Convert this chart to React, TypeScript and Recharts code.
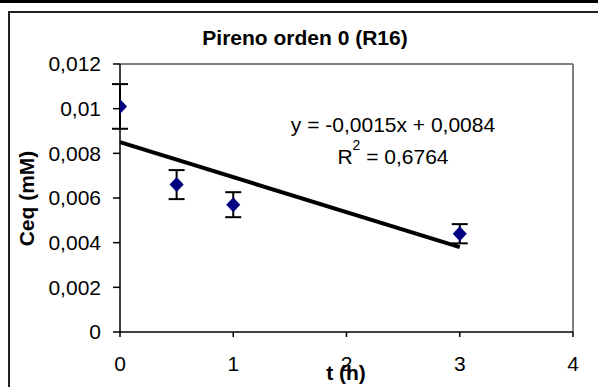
import React from 'react';
import { ComposedChart, Scatter, ErrorBar, XAxis, YAxis, ReferenceLine } from 'recharts';

// measured points (t in h, Ceq in mM) with error
const times = [0, 0.5, 1, 3];
const ceq = [0.0101, 0.0066, 0.0057, 0.0044];
const errs = [0.001, 0.00065, 0.00056, 0.00043];

// linear trendline ends
const trendX = [0, 3];
const trendY = [0.0085, 0.0038];

const xTicks = [0, 1, 2, 3, 4];
const yTicks = [0, 0.002, 0.004, 0.006, 0.008, 0.01, 0.012];

const title = 'Pireno orden 0 (R16)';
const eqText = 'y = -0,0015x + 0,0084';
const r2Value = ' = 0,6764';

const points = times.map((t, i) => ({ x: t, y: ceq[i], err: errs[i] }));
const font = '"Liberation Sans", Arial, sans-serif';
const comma = (v: number) => String(v).replace('.', ',');

const Diamond = (props: any) => {
  const { cx, cy } = props;
  if (cx == null || cy == null) return null;
  return <polygon points={`${cx},${cy - 7.5} ${cx + 7},${cy} ${cx},${cy + 7.5} ${cx - 7},${cy}`} fill="#000080" />;
};

const App: React.FC = () => {
  return (
    <div style={{ position: 'absolute', left: 0, top: 0, width: 598, height: 387, overflow: 'hidden', background: '#fff' }}>
      <div style={{ position: 'absolute', left: 0, top: 0, width: 598, height: 3, background: '#000' }} />
      <div style={{ position: 'absolute', left: 8, top: 11, width: 640, height: 420, border: '2px solid #222' }} />
      <div style={{ position: 'absolute', left: 0, top: 0 }}>
        <ComposedChart width={598} height={387} margin={{ top: 64, right: 25, bottom: 25, left: 0 }}>
          <XAxis
            type="number"
            dataKey="x"
            domain={[0, 4]}
            ticks={xTicks}
            allowDataOverflow
            height={30}
            stroke="#000"
            strokeWidth={1.5}
            tickSize={5}
            tickMargin={19}
            tick={{ fill: '#000', fontSize: 21, fontFamily: font }}
          />
          <YAxis
            type="number"
            dataKey="y"
            domain={[0, 0.012]}
            ticks={yTicks}
            allowDataOverflow
            width={120}
            stroke="#000"
            strokeWidth={1.5}
            tickSize={7}
            tickMargin={12}
            tickFormatter={comma}
            tick={{ fill: '#000', fontSize: 21, fontFamily: font }}
          />
          <ReferenceLine y={0.012} stroke="#808080" strokeWidth={2} />
          <ReferenceLine x={4} stroke="#808080" strokeWidth={2} />
          <Scatter data={points} shape={<Diamond />} isAnimationActive={false}>
            <ErrorBar dataKey="err" direction="y" width={8} stroke="#000" strokeWidth={2} />
          </Scatter>
          <ReferenceLine
            segment={[{ x: trendX[0], y: trendY[0] }, { x: trendX[1], y: trendY[1] }]}
            stroke="#000"
            strokeWidth={4}
          />
          <text x={305} y={45} textAnchor="middle" fontFamily={font} fontSize={21} fontWeight="bold" fill="#000">{title}</text>
          <text x={393} y={132} textAnchor="middle" fontFamily={font} fontSize={21} fill="#000">{eqText}</text>
          <text x={393} y={164} textAnchor="middle" fontFamily={font} fontSize={21} fill="#000">
            R<tspan fontSize={14} dy={-14}>2</tspan><tspan dy={14}>{r2Value}</tspan>
          </text>
          <text x={34} y={198.5} textAnchor="middle" transform="rotate(-90, 34, 198.5)" fontFamily={font} fontSize={21} fontWeight="bold" fill="#000">Ceq (mM)</text>
          <text x={346} y={380} textAnchor="middle" fontFamily={font} fontSize={21} fontWeight="bold" fill="#000">t (h)</text>
        </ComposedChart>
      </div>
    </div>
  );
};

export default App;
